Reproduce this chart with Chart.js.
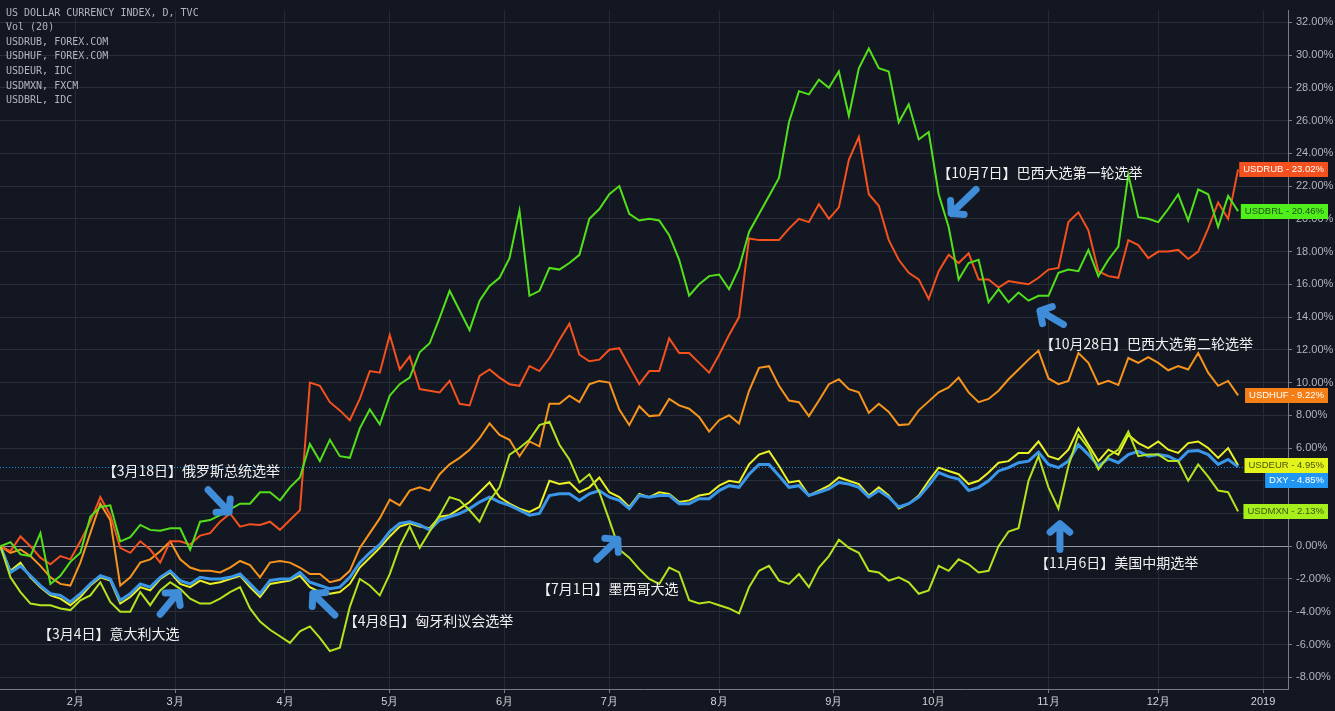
<!DOCTYPE html>
<html>
<head>
<meta charset="utf-8">
<script src="https://cdn.jsdelivr.net/npm/chart.js@4.4.1/dist/chart.umd.min.js"></script>
<style>
  html, body { margin: 0; padding: 0; background: #131722; overflow: hidden; }
  canvas { display: block; }
</style>
</head>
<body>
<canvas id="chart" width="1335" height="711"></canvas>
<script>
// one sample every 2 trading days, starting mid January 2018 (values in % change)
const stepDays = 2;
const monthDays = [15, 35, 57, 78, 101, 122, 144, 167, 187, 210, 232, 253];
const monthLabels = ['2月', '3月', '4月', '5月', '6月', '7月', '8月', '9月', '10月', '11月', '12月', '2019'];
const yTicks = [-8, -6, -4, -2, 0, 2, 4, 6, 8, 10, 12, 14, 16, 18, 20, 22, 24, 26, 28, 30, 32];

const dxy = [
  0, -1.6, -1.2, -1.8, -2.4, -2.9, -3.0, -3.4, -2.9, -2.3,
  -1.8, -2.0, -3.3, -2.9, -2.3, -2.5, -1.9, -1.5, -2.1, -2.3,
  -1.9, -2.0, -2.0, -1.9, -1.7, -2.3, -2.9, -2.1, -2.0, -2.0,
  -1.6, -2.2, -2.4, -2.6, -2.5, -1.9, -1.0, -0.4, 0.1, 0.9,
  1.4, 1.5, 1.3, 1.0, 1.6, 1.8, 2.0, 2.3, 2.7, 3.0,
  2.7, 2.5, 2.2, 1.9, 2.0, 3.1, 3.2, 3.2, 2.8, 3.2,
  3.4, 3.0, 2.8, 2.3, 3.1, 3.0, 3.1, 3.1, 2.6, 2.6,
  2.9, 2.9, 3.4, 3.7, 3.6, 4.4, 5.0, 5.0, 4.3, 3.6,
  3.7, 3.1, 3.3, 3.5, 3.9, 3.8, 3.6, 3.0, 3.4, 3.0,
  2.4, 2.6, 3.0, 3.7, 4.5, 4.25, 4.1, 3.4, 3.6, 4.0,
  4.6, 4.8, 5.1, 5.2, 5.75, 5.0, 4.8, 5.2, 6.2, 5.6,
  4.9, 5.35, 5.1, 5.6, 5.8, 5.5, 5.6, 5.5, 5.2, 5.8,
  5.85, 5.6, 5.0, 5.3, 4.85
];
const usdeur = [
  0, -1.5, -1.0, -1.9, -2.5, -3.0, -3.2, -3.6, -3.1, -2.4,
  -1.9, -2.1, -3.5, -3.1, -2.5, -2.7, -2.0, -1.6, -2.3, -2.5,
  -2.1, -2.3, -2.2, -2.0, -1.8, -2.5, -3.1, -2.3, -2.2, -2.1,
  -1.8, -2.5, -2.8, -2.9, -2.8, -2.3, -1.3, -0.7, -0.1, 0.6,
  1.2, 1.4, 1.2, 1.1, 1.8, 1.9, 2.3, 2.7, 3.3, 3.9,
  3.0, 2.6, 2.3, 2.1, 2.4, 4.0, 3.8, 3.9, 3.3, 3.6,
  4.2, 3.3, 3.0, 2.4, 3.2, 3.0, 3.3, 3.2, 2.7, 2.8,
  3.1, 3.2, 3.7, 4.0, 3.9, 5.0, 5.6, 5.8, 4.9, 3.9,
  4.0, 3.1, 3.4, 3.7, 4.2, 4.0, 3.8, 3.1, 3.6, 3.1,
  2.3, 2.6, 3.1, 4.0, 4.8, 4.6, 4.4, 3.8, 4.0, 4.5,
  5.1, 5.2, 5.7, 5.7, 6.4, 5.5, 5.3, 5.9, 7.2, 6.2,
  5.2, 5.9, 5.6, 6.8, 6.3, 6.0, 6.4, 5.9, 5.7, 6.3,
  6.4, 6.0, 5.4, 6.0, 4.95
];
const usdmxn = [
  0, -1.9, -2.8, -3.5, -3.6, -3.6, -3.8, -3.9, -3.3, -3.0,
  -2.2, -3.4, -4.0, -4.0, -2.8, -3.6, -2.7, -2.2, -2.6, -3.2,
  -3.5, -3.5, -3.2, -2.8, -2.5, -3.8, -4.6, -5.1, -5.5, -5.9,
  -5.2, -4.9, -5.6, -6.4, -6.2, -3.7, -2.0, -2.4, -3.0, -1.7,
  0.0, 1.2, -0.1, 0.9, 1.9, 3.0, 2.8, 2.2, 1.5, 2.8,
  3.6, 5.6, 6.0, 6.5, 7.4, 7.6, 6.2, 5.3, 3.9, 4.4,
  3.3, 1.6, -0.2, -0.7, -1.4, -2.0, -2.3, -1.3, -1.6, -3.3,
  -3.5, -3.4, -3.6, -3.8, -4.1, -2.5, -1.5, -1.2, -2.1, -2.3,
  -1.7, -2.5, -1.3, -0.6, 0.4, -0.1, -0.4, -1.5, -1.6, -2.1,
  -1.9, -2.2, -2.9, -2.7, -1.2, -1.5, -0.8, -1.1, -1.6, -1.5,
  0.0, 0.9, 1.1, 4.0, 5.5, 3.6, 2.3, 4.9, 6.8, 6.0,
  4.7, 5.5, 5.9, 7.0, 5.5, 5.6, 5.6, 5.2, 5.2, 4.0,
  5.0, 4.25, 3.4, 3.3, 2.13
];
const usdrub = [
  0, -0.3, 0.6, 0.0, -0.7, -1.1, -0.6, -0.8, 0.3, 1.5,
  3.0, 1.9, -0.1, -0.4, 0.3, -0.2, -1.0, 0.3, 0.3, 0.1,
  0.65, 0.8, 1.5, 2.0, 1.2, 1.35, 1.3, 1.5, 1.0, 1.6,
  2.2, 10.0, 9.8, 8.8, 8.3, 7.7, 9.0, 10.7, 10.6, 12.9,
  10.8, 11.6, 9.6, 9.5, 9.4, 10.1, 8.7, 8.6, 10.4, 10.8,
  10.3, 9.9, 9.8, 11.0, 10.7, 11.5, 12.6, 13.6, 11.7, 11.3,
  11.4, 12.0, 12.1, 11.0, 9.9, 10.7, 10.7, 12.7, 11.8, 11.8,
  11.2, 10.6, 11.7, 12.9, 14.0, 18.8, 18.7, 18.7, 18.7, 19.4,
  20.0, 19.8, 20.9, 20.0, 20.7, 23.6, 25.0, 21.5, 20.8, 18.7,
  17.5, 16.7, 16.3, 15.1, 16.8, 17.8, 17.3, 17.9, 16.3, 16.3,
  15.8, 16.2, 16.1, 16.0, 16.4, 16.9, 17.0, 19.8, 20.4, 19.3,
  16.8, 16.5, 16.4, 18.7, 18.4, 17.6, 18.0, 18.0, 18.1, 17.55,
  18.0, 19.4, 21.0, 20.0, 23.02
];
const usdhuf = [
  0, -0.4, -0.2, -0.6, -1.2, -1.9, -2.3, -2.4, -1.0, 0.8,
  2.6, 1.6, -2.4, -1.9, -1.0, -0.8, -0.3, 0.3, -0.8, -1.3,
  -1.5, -1.5, -1.6, -1.3, -0.9, -1.15, -1.9, -1.0, -0.9, -1.0,
  -1.3, -1.7, -1.7, -2.2, -2.05, -1.5, -0.1, 0.8, 1.7, 2.85,
  2.5, 3.4, 3.6, 3.4, 4.4, 5.0, 5.4, 5.9, 6.6, 7.5,
  6.8, 6.5, 5.5, 6.4, 6.1, 8.7, 8.7, 9.2, 8.8, 9.9,
  10.1, 10.0, 8.35, 7.4, 8.55, 7.95, 8.0, 9.0, 8.6, 8.4,
  7.9, 7.0, 7.7, 8.0, 7.5, 9.5, 10.9, 11.0, 9.8, 8.9,
  8.8, 7.95, 8.9, 9.9, 10.2, 9.6, 9.4, 8.15, 8.7, 8.2,
  7.4, 7.45, 8.3, 8.85, 9.4, 9.7, 10.3, 9.4, 8.8, 9.0,
  9.5, 10.2, 10.8, 11.4, 11.95, 10.25, 9.9, 10.1, 11.8, 11.2,
  9.9, 10.1, 9.85, 11.5, 11.2, 11.55, 11.2, 10.75, 11.0, 10.8,
  11.8, 10.6, 9.8, 10.1, 9.22
];
const usdbrl = [
  0, 0.25, -0.5, -0.6, 0.8, -2.3, -1.8, -0.95, -0.4, 1.8,
  2.4, 2.5, 0.3, 0.55, 1.3, 1.0, 0.95, 1.1, 1.1, -0.2,
  1.5, 1.6, 1.9, 2.25, 2.6, 2.6, 3.3, 3.3, 2.8, 3.6,
  4.2, 6.25, 5.2, 6.5, 5.5, 5.4, 7.2, 8.35, 7.45, 9.2,
  9.9, 10.3, 11.85, 12.4, 13.95, 15.6, 14.4, 13.2, 15.0, 15.9,
  16.4, 17.6, 20.5, 15.3, 15.6, 17.0, 16.9, 17.3, 17.8, 20.0,
  20.6, 21.5, 22.0, 20.3, 19.9, 20.0, 19.9, 19.0, 17.5, 15.3,
  16.0, 16.5, 16.6, 15.7, 17.0, 19.2, 20.3, 21.4, 22.5, 25.9,
  27.8, 27.6, 28.5, 28.0, 29.0, 26.3, 29.2, 30.4, 29.2, 29.0,
  25.9, 27.0, 24.85, 25.3, 21.5, 19.5, 16.3, 17.3, 17.5, 14.9,
  15.7, 14.9, 15.5, 15.0, 15.3, 15.3, 16.7, 16.9, 16.8, 18.1,
  16.5, 17.5, 18.3, 22.7, 20.1, 20.0, 19.8, 20.6, 21.5, 19.9,
  21.8, 21.5, 19.5, 21.4, 20.46
];

const legendLines = [
  'US DOLLAR CURRENCY INDEX, D, TVC',
  'Vol (20)',
  'USDRUB, FOREX.COM',
  'USDHUF, FOREX.COM',
  'USDEUR, IDC',
  'USDMXN, FXCM',
  'USDBRL, IDC'
];

// event notes, placed in chart units (trading day, %)
const eventNotes = [
  { text: '【3月18日】俄罗斯总统选举', day: 20.5, value: 4.63 },
  { text: '【3月4日】意大利大选', day: 7.5, value: -5.35 },
  { text: '【4月8日】匈牙利议会选举', day: 68.8, value: -4.57 },
  { text: '【7月1日】墨西哥大选', day: 107.5, value: -2.59 },
  { text: '【10月7日】巴西大选第一轮选举', day: 187.7, value: 22.8 },
  { text: '【10月28日】巴西大选第二轮选举', day: 208.3, value: 12.39 },
  { text: '【11月6日】美国中期选举', day: 207.3, value: -1.02 }
];
const eventArrows = [
  { from: [41.6, 3.45], to: [45.8, 2.1] },
  { from: [32.0, -4.15], to: [35.6, -2.83] },
  { from: [67.0, -4.2], to: [62.6, -2.89] },
  { from: [119.5, -0.8], to: [123.7, 0.42] },
  { from: [195.5, 21.8], to: [190.5, 20.33] },
  { from: [213.0, 13.55], to: [208.3, 14.38] },
  { from: [212.3, -0.2], to: [212.3, 1.38] }
];

const series = [
  { name: 'USDBRL', values: usdbrl, color: '#52e01b', box: '#4eef1a', text: '#24501a', width: 2, order: 1 },
  { name: 'USDMXN', values: usdmxn, color: '#b5e41e', box: '#a6ef1c', text: '#3e5212', width: 2, order: 2 },
  { name: 'USDRUB', values: usdrub, color: '#f4511e', box: '#f4511e', text: '#ffffff', width: 2, order: 3 },
  { name: 'USDHUF', values: usdhuf, color: '#f7941d', box: '#f57f17', text: '#ffffff', width: 2, order: 4 },
  { name: 'DXY', values: dxy, color: '#3a96e8', box: '#2196f3', text: '#ffffff', width: 3, order: 5 },
  { name: 'USDEUR', values: usdeur, color: '#eaf226', box: '#e3f41b', text: '#4d5210', width: 2, order: 6 }
];

function toPoints(values) {
  return values.map((v, i) => ({ x: i * stepDays, y: v }));
}

function drawArrow(ctx, x1, y1, x2, y2) {
  const ang = Math.atan2(y2 - y1, x2 - x1);
  const head = 13;
  ctx.beginPath();
  ctx.moveTo(x1, y1);
  ctx.lineTo(x2, y2);
  ctx.moveTo(x2 - head * Math.cos(ang - 0.85), y2 - head * Math.sin(ang - 0.85));
  ctx.lineTo(x2, y2);
  ctx.lineTo(x2 - head * Math.cos(ang + 0.85), y2 - head * Math.sin(ang + 0.85));
  ctx.stroke();
}

const tvPlugin = {
  id: 'tv',
  beforeDraw(chart) {
    const ctx = chart.ctx;
    ctx.save();
    ctx.fillStyle = '#131722';
    ctx.fillRect(0, 0, chart.width, chart.height);
    ctx.restore();
  },
  beforeDatasetsDraw(chart) {
    // dotted price line of the main symbol
    const { ctx, chartArea, scales } = chart;
    const py = Math.round(scales.y.getPixelForValue(dxy[dxy.length - 1])) + 0.5;
    ctx.save();
    ctx.strokeStyle = 'rgba(33,150,243,0.9)';
    ctx.lineWidth = 1;
    ctx.setLineDash([1, 2]);
    ctx.beginPath();
    ctx.moveTo(chartArea.left, py);
    ctx.lineTo(chartArea.right, py);
    ctx.stroke();
    ctx.restore();
  },
  afterDraw(chart) {
    const { ctx, scales } = chart;
    const x = scales.x, y = scales.y;
    ctx.save();

    // top-left legend
    ctx.font = '10px "DejaVu Sans Mono", monospace';
    ctx.fillStyle = '#b2b5be';
    ctx.textBaseline = 'middle';
    ctx.textAlign = 'left';
    legendLines.forEach((t, i) => ctx.fillText(t, 6, 13 + i * 14.6));

    // event arrows
    ctx.strokeStyle = '#3f8cd8';
    ctx.lineWidth = 7;
    ctx.lineCap = 'round';
    ctx.lineJoin = 'round';
    eventArrows.forEach(a => {
      drawArrow(ctx,
        x.getPixelForValue(a.from[0]), y.getPixelForValue(a.from[1]),
        x.getPixelForValue(a.to[0]), y.getPixelForValue(a.to[1]));
    });

    // event notes
    ctx.font = '14px "Noto Sans CJK SC", sans-serif';
    ctx.fillStyle = '#f0f0f0';
    eventNotes.forEach(n => {
      ctx.fillText(n.text, x.getPixelForValue(n.day), y.getPixelForValue(n.value));
    });

    // last value boxes on the price axis
    const boxH = 15;
    const right = chart.width - 7;
    const items = series.map(s => ({ s, v: s.values[s.values.length - 1] }))
      .sort((a, b) => b.v - a.v);
    let prev = -Infinity;
    ctx.font = '9.5px "Liberation Sans", Arial, sans-serif';
    items.forEach(it => {
      let cy = y.getPixelForValue(it.v);
      if (cy - prev < boxH) cy = prev + boxH;
      prev = cy;
      const label = it.s.name + ' - ' + it.v.toFixed(2) + '%';
      const w = ctx.measureText(label).width + 8;
      ctx.fillStyle = it.s.box;
      ctx.fillRect(right - w, Math.round(cy - boxH / 2), w, boxH);
      ctx.fillStyle = it.s.text;
      ctx.textAlign = 'left';
      ctx.fillText(label, right - w + 4, Math.round(cy) + 0.5);
    });
    ctx.restore();
  }
};

new Chart(document.getElementById('chart'), {
  type: 'line',
  data: {
    datasets: series.map(s => ({
      label: s.name,
      data: toPoints(s.values),
      borderColor: s.color,
      borderWidth: s.width,
      pointRadius: 0,
      tension: 0,
      fill: false,
      order: s.order
    }))
  },
  options: {
    responsive: false,
    animation: false,
    devicePixelRatio: 1,
    layout: { padding: 0 },
    plugins: {
      legend: { display: false },
      tooltip: { enabled: false }
    },
    scales: {
      x: {
        type: 'linear',
        min: -0.1,
        max: 258,
        afterBuildTicks(scale) { scale.ticks = monthDays.map(v => ({ value: v })); },
        afterFit(scale) { scale.height = 22; },
        ticks: {
          autoSkip: false,
          maxRotation: 0,
          padding: 2,
          color: '#d1d4dc',
          font: { size: 11, family: '"Liberation Sans", Arial, sans-serif' },
          callback: (v) => monthLabels[monthDays.indexOf(v)]
        },
        grid: { color: '#262a35', tickLength: 4, tickColor: '#787b86' },
        border: { color: '#787b86' }
      },
      y: {
        position: 'right',
        min: -8.72,
        max: 32.72,
        afterBuildTicks(scale) { scale.ticks = yTicks.map(v => ({ value: v })); },
        afterFit(scale) { scale.width = 47; },
        ticks: {
          padding: 4,
          color: '#b2b5be',
          font: { size: 11, family: '"Liberation Sans", Arial, sans-serif' },
          callback: (v) => v.toFixed(2) + '%'
        },
        grid: {
          color: (c) => (c.tick && c.tick.value === 0 ? '#9598a1' : '#2a2e39'),
          tickLength: 4,
          tickColor: '#787b86'
        },
        border: { color: '#787b86' }
      }
    }
  },
  plugins: [tvPlugin]
});
</script>
</body>
</html>
